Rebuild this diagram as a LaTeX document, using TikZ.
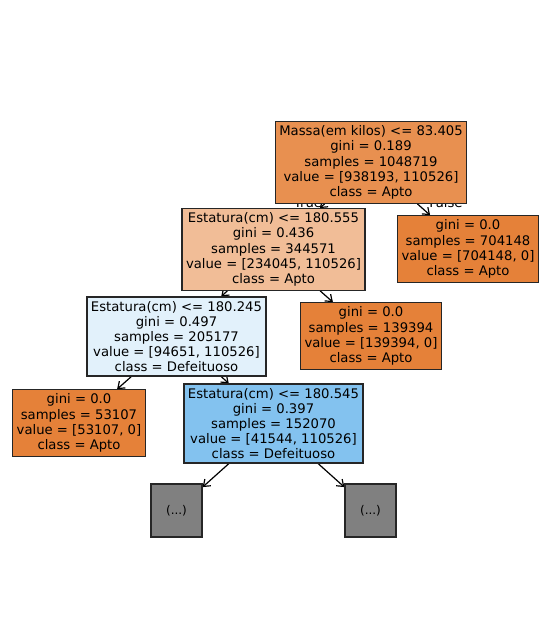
\documentclass[tikz,border=0pt]{standalone}
\usepackage{fontspec}
\setmainfont{DejaVu Sans}
\usetikzlibrary{arrows.meta}

\pgfdeclarelayer{background}
\pgfsetlayers{background,main}

% node fills (sklearn style)
\definecolor{rootfill}{RGB}{232,144,80}
\definecolor{aptofill}{RGB}{229,129,57}
\definecolor{lightapto}{RGB}{241,189,151}
\definecolor{lightdef}{RGB}{226,241,251}
\definecolor{deffill}{RGB}{131,194,239}
\definecolor{cutfill}{RGB}{128,128,128}

\tikzset{
  treenode/.style={draw=black!85, line width=1.3pt, align=center, inner sep=4pt,
    font=\fontsize{13.2}{15.2}\selectfont},
  splitnode/.style={treenode},
  leafnode/.style={treenode, fill=aptofill},
  cutnode/.style={treenode, fill=cutfill, minimum width=51pt, minimum height=53pt, font=\fontsize{12}{13}\selectfont},
  treeedge/.style={-{Straight Barb[length=6pt,width=9pt]}, line width=1.2pt},
  edgelabel/.style={font=\fontsize{13.2}{14}\selectfont},
}

\begin{document}
\begin{tikzpicture}[x=1pt, y=-1pt]
\useasboundingbox (0,0) rectangle (556,619);

% level 0
\node[splitnode, fill=rootfill] (root) at (371,162.5) {Massa(em kilos) <= 83.405\\gini = 0.189\\samples = 1048719\\value = [938193, 110526]\\class = Apto};

% level 1
\node[splitnode, fill=lightapto] (est555) at (273.5,249.5) {Estatura(cm) <= 180.555\\gini = 0.436\\samples = 344571\\value = [234045, 110526]\\class = Apto};
\node[leafnode] (leafA) at (468,249) {gini = 0.0\\samples = 704148\\value = [704148, 0]\\class = Apto};

% level 2
\node[splitnode, fill=lightdef] (est245) at (176.5,336.5) {Estatura(cm) <= 180.245\\gini = 0.497\\samples = 205177\\value = [94651, 110526]\\class = Defeituoso};
\node[leafnode] (leafB) at (371,336) {gini = 0.0\\samples = 139394\\value = [139394, 0]\\class = Apto};

% level 3
\node[leafnode] (leafC) at (79,423) {gini = 0.0\\samples = 53107\\value = [53107, 0]\\class = Apto};
\node[splitnode, fill=deffill] (est545) at (273.5,423.5) {Estatura(cm) <= 180.545\\gini = 0.397\\samples = 152070\\value = [41544, 110526]\\class = Defeituoso};

% truncated subtrees
\node[cutnode] (cutL) at (176.5,510.5) {(...)};
\node[cutnode] (cutR) at (370.5,510.5) {(...)};

% edges behind the boxes
\begin{pgfonlayer}{background}
\node[edgelabel] (truelab) at (308,202.5) {True};
\node[edgelabel] (falselab) at (446,202.5) {False};
\draw[treeedge] (root) -- (est555);
\draw[treeedge] (root) -- (leafA);
\draw[treeedge] (est555) -- (est245);
\draw[treeedge] (est555) -- (leafB);
\draw[treeedge] (est245) -- (leafC);
\draw[treeedge] (est245) -- (est545);
\draw[treeedge] (est545) -- (cutL);
\draw[treeedge] (est545) -- (cutR);
\end{pgfonlayer}

\end{tikzpicture}
\end{document}
